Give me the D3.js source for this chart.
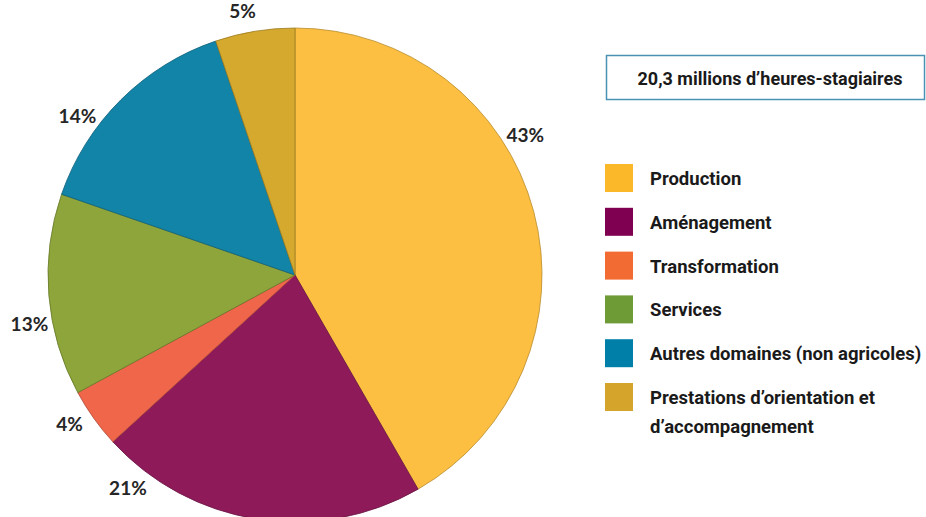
<!DOCTYPE html>
<html><head><meta charset="utf-8">
<script src="https://cdn.jsdelivr.net/npm/d3@7"></script>
<style>
html,body{margin:0;padding:0;background:#fff;}
svg{display:block;}
</style></head>
<body>
<svg id="chart" width="926" height="517"></svg>
<script>
// ---- data ----
const categories = ["Production","Aménagement","Transformation","Services","Autres domaines (non agricoles)","Prestations d’orientation et d’accompagnement"];
const values = [41.7, 21.5, 3.9, 13.2, 14.5, 5.2];         // share of slice as drawn
const valueLabels = ["43%","21%","4%","13%","14%","5%"];   // printed labels
const legendLines = [["Production"],["Aménagement"],["Transformation"],["Services"],["Autres domaines (non agricoles)"],["Prestations d’orientation et","d’accompagnement"]];
const title = "20,3 millions d’heures-stagiaires";
const sliceColors = ["#fdbf41","#8e1a5a","#f0664a","#8da53a","#1284a8","#d5a92d"];
const legendColors = ["#fbb829","#7f0050","#f26b33","#6e9b35","#0080a8","#d4a52a"];

// ---- layout ----
const svg = d3.select("#chart");
const cx = 295, cy = 275, R = 247, labelR = 270;
const labelFrac = [0.39, 0.88, 0.65, 0.38, 0.33, 0.40];

const pie = d3.pie().sort(null).value(d => d);
const arcs = pie(values);
const arc = d3.arc().innerRadius(0).outerRadius(R);

const g = svg.append("g").attr("transform", `translate(${cx},${cy})`);
g.selectAll("path.slice").data(arcs).join("path")
  .attr("class","slice")
  .attr("d", arc)
  .attr("fill", (d,i) => sliceColors[i])
  .attr("stroke", (d,i) => d3.color(sliceColors[i]).darker(0.9))
  .attr("stroke-width", 0.8)
  .attr("stroke-linejoin","round");

g.selectAll("text.lbl").data(arcs).join("text")
  .attr("class","lbl")
  .attr("x", (d,i) => { const a = d.startAngle + (d.endAngle-d.startAngle)*labelFrac[i]; return labelR*Math.sin(a); })
  .attr("y", (d,i) => { const a = d.startAngle + (d.endAngle-d.startAngle)*labelFrac[i]; return -labelR*Math.cos(a); })
  .attr("text-anchor","middle")
  .attr("dominant-baseline","central")
  .attr("font-family","Lato, 'Open Sans', sans-serif")
  .attr("font-weight",700)
  .attr("font-size",19)
  .attr("fill","#262626")
  .text((d,i) => valueLabels[i]);

// title box
svg.append("rect")
  .attr("x",606.5).attr("y",55.5).attr("width",318).attr("height",44)
  .attr("fill","#fff").attr("stroke","#4a93b5").attr("stroke-width",1.5);
svg.append("text")
  .attr("x",770).attr("y",78)
  .attr("text-anchor","middle").attr("dominant-baseline","central")
  .attr("font-family","Roboto, 'Liberation Sans', sans-serif")
  .attr("font-weight",700).attr("font-size",18).attr("fill","#1a1a1a")
  .text(title);

// legend
const ly = d3.scalePoint().domain(d3.range(categories.length)).range([178, 397]);
const lg = svg.append("g").selectAll("g").data(categories).join("g")
  .attr("transform",(d,i)=>`translate(605,${ly(i)})`);
lg.append("rect").attr("x",0).attr("y",-14).attr("width",28).attr("height",28)
  .attr("fill",(d,i)=>legendColors[i]);
lg.append("text")
  .attr("x",45)
  .attr("font-family","Roboto, 'Liberation Sans', sans-serif")
  .attr("font-weight",700).attr("font-size",18.5).attr("fill","#1a1a1a")
  .selectAll("tspan").data((d,i)=>legendLines[i]).join("tspan")
  .attr("x",45).attr("y",(d,j)=> 7 + j*29)
  .text(d=>d);
</script>
</body></html>
